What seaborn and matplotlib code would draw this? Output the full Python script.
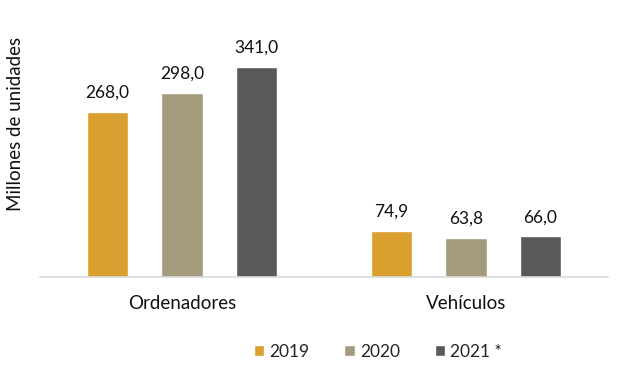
import pandas as pd
import matplotlib.pyplot as plt
import seaborn as sns

categories = ["Ordenadores", "Vehículos"]
years = ["2019", "2020", "2021 *"]
values_2019 = [268.0, 74.9]
values_2020 = [298.0, 63.8]
values_2021 = [341.0, 66.0]
colors = ["#D9A02F", "#A39B7C", "#595959"]

df = pd.DataFrame({
    "categoria": categories * 3,
    "anio": [y for y in years for _ in categories],
    "valor": values_2019 + values_2020 + values_2021,
})

sns.set_style("white")
plt.rcParams["font.family"] = ["Lato", "DejaVu Sans"]

fig, ax = plt.subplots(figsize=(6.4, 3.76), dpi=100)
fig.subplots_adjust(left=0.0625, right=0.95, top=0.92, bottom=0.263)

sns.barplot(data=df, x="categoria", y="valor", hue="anio", palette=colors,
            saturation=1, width=0.786, gap=0.445, ax=ax, legend=True)

for cont in ax.containers:
    ax.bar_label(cont, labels=[f"{v:.1f}".replace(".", ",") for v in cont.datavalues],
                 padding=8, fontsize=12.5, color="#111111")

ax.set_xlim(-0.5, 1.5)
ax.set_ylim(0, 400)
ax.set_yticks([])
ax.set_xlabel("")
ax.set_ylabel("Millones de unidades", fontsize=13.5, color="#111111")
ax.yaxis.set_label_coords(-0.028, 0.62)
ax.tick_params(axis="x", length=0, labelsize=13.5, pad=13, colors="#111111")
for side in ["top", "right", "left"]:
    ax.spines[side].set_visible(False)
ax.spines["bottom"].set_color("#D9D9D9")
ax.spines["bottom"].set_linewidth(1.2)

handles, labels = ax.get_legend_handles_labels()
ax.legend(handles, labels, loc="center", bbox_to_anchor=(378 / 640, 24 / 376),
          bbox_transform=fig.transFigure, ncol=3, frameon=False, fontsize=12.5,
          handlelength=0.6, handleheight=0.6, handletextpad=0.3, columnspacing=2.0)

fig.savefig("out.png", dpi=100)
